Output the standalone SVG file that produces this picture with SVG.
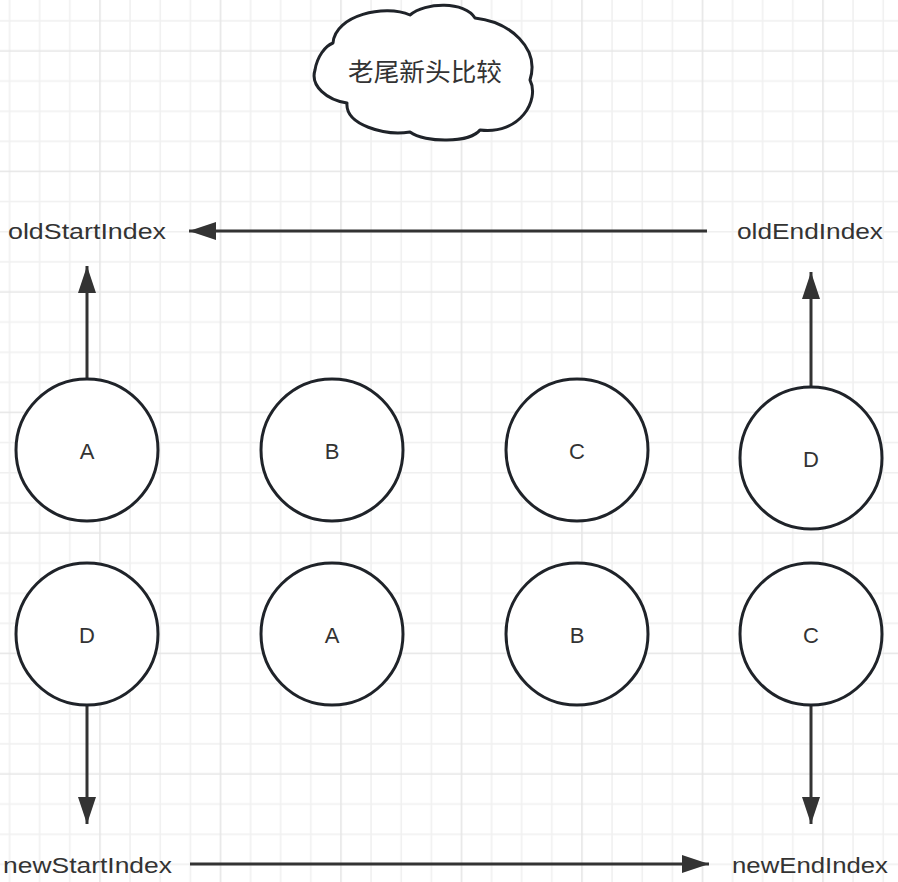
<svg xmlns="http://www.w3.org/2000/svg" width="898" height="882" viewBox="0 0 898 882">
  <style>
    .node circle { fill: #ffffff; stroke: #1f2329; stroke-width: 3; }
    .node text { font-family: "Liberation Sans", Arial, sans-serif; font-size: 22px; fill: #333333; text-anchor: middle; }
    .lbl { font-family: "Liberation Sans", Arial, sans-serif; font-size: 22px; fill: #333333; }
    .conn line { stroke: #333333; stroke-width: 3; fill: none; }
    .cloud path { fill: #ffffff; stroke: #1f2329; stroke-width: 3; stroke-linejoin: round; }
    .cloud text { font-family: "Noto Sans CJK SC", "Noto Sans CJK JP", sans-serif; font-size: 25px; fill: #333333; text-anchor: middle; }
  </style>
  <defs>
    <pattern id="grid" patternUnits="userSpaceOnUse" x="-5.4" y="5.9" width="120.5" height="120.5">
      <path d="M15 0V120.5M45.125 0V120.5M75.25 0V120.5M0 15H120.5M0 75.25H120.5M0 105.375H120.5" stroke="#f0f0f0" stroke-width="1.5" fill="none"/>
      <path d="M105.375 0V120.5M0 45.125H120.5" stroke="#e6e6e6" stroke-width="1.6" fill="none"/>
    </pattern>
    <marker id="arrow" markerUnits="userSpaceOnUse" markerWidth="28" markerHeight="18" refX="27" refY="9" orient="auto">
      <path d="M0,0 L27,9 L0,18 Z" fill="#333333"/>
    </marker>
  </defs>

  <rect width="898" height="882" fill="#ffffff"/>
  <rect width="898" height="882" fill="url(#grid)"/>

  <g id="cloud" class="cloud">
    <path d="M333,43 C335,15 385,4 410,15 C425,2 465,1 475,18 C510,22 540,48 530,80 C540,100 520,135 480,130 C470,143 425,143 410,132 C385,136 345,125 347,103 C327,100 310,86 315,70 C317,57 325,46 333,43 Z"/>
    <text x="425" y="81" textLength="154" lengthAdjust="spacingAndGlyphs">老尾新头比较</text>
  </g>

  <g id="labels">
    <text id="oldStartIndex" class="lbl" x="8" y="239" textLength="158" lengthAdjust="spacingAndGlyphs">oldStartIndex</text>
    <text id="oldEndIndex" class="lbl" x="737" y="239" textLength="146" lengthAdjust="spacingAndGlyphs">oldEndIndex</text>
    <text id="newStartIndex" class="lbl" x="3" y="873" textLength="169" lengthAdjust="spacingAndGlyphs">newStartIndex</text>
    <text id="newEndIndex" class="lbl" x="732" y="873" textLength="156" lengthAdjust="spacingAndGlyphs">newEndIndex</text>
  </g>

  <g id="connectors" class="conn">
    <line x1="87" y1="378" x2="87" y2="266" marker-end="url(#arrow)"/>
    <line x1="707" y1="231" x2="189" y2="231" marker-end="url(#arrow)"/>
    <line x1="811" y1="387" x2="811" y2="272" marker-end="url(#arrow)"/>
    <line x1="87" y1="705" x2="87" y2="824" marker-end="url(#arrow)"/>
    <line x1="811" y1="705" x2="811" y2="824" marker-end="url(#arrow)"/>
    <line x1="190" y1="864" x2="709" y2="864" marker-end="url(#arrow)"/>
  </g>

  <g id="old-A" class="node"><circle cx="87" cy="450" r="71"/><text x="87" y="459">A</text></g>
  <g id="old-B" class="node"><circle cx="332" cy="450" r="71"/><text x="332" y="459">B</text></g>
  <g id="old-C" class="node"><circle cx="577" cy="450" r="71"/><text x="577" y="459">C</text></g>
  <g id="old-D" class="node"><circle cx="811" cy="458" r="71"/><text x="811" y="467">D</text></g>

  <g id="new-D" class="node"><circle cx="87" cy="634" r="71"/><text x="87" y="643">D</text></g>
  <g id="new-A" class="node"><circle cx="332" cy="634" r="71"/><text x="332" y="643">A</text></g>
  <g id="new-B" class="node"><circle cx="577" cy="634" r="71"/><text x="577" y="643">B</text></g>
  <g id="new-C" class="node"><circle cx="811" cy="634" r="71"/><text x="811" y="643">C</text></g>
</svg>
